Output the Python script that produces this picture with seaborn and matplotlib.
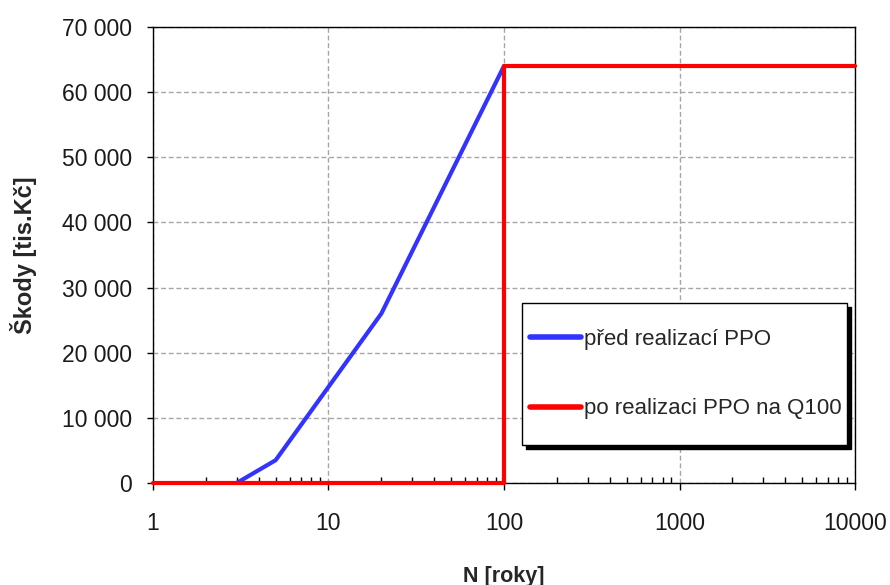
import matplotlib
matplotlib.use("Agg")
import matplotlib.pyplot as plt
import matplotlib.ticker as mticker
import matplotlib.transforms as mtransforms
from matplotlib.patches import Rectangle
import numpy as np
import pandas as pd
import seaborn as sns

# ---- data ----
n_before = [3, 5, 20, 100]
dmg_before = [0, 3500, 26000, 64000]
label_before = "před realizací PPO"

n_after = [1, 100, 100, 10000]
dmg_after = [0, 0, 64000, 64000]
label_after = "po realizaci PPO na Q100"

x_ticks = [1, 10, 100, 1000, 10000]
x_ticklabels = ["1", "10", "100", "1000", "10000"]
y_ticks = [0, 10000, 20000, 30000, 40000, 50000, 60000, 70000]

x_label = "N [roky]"
y_label = "Škody [tis.Kč]"

sns.set_style("white")
plt.rcParams["font.family"] = ["Liberation Sans", "DejaVu Sans"]

fig = plt.figure(figsize=(8.9, 5.85), dpi=100)
ax = fig.add_axes([0.1719, 0.1744, 0.7888, 0.7796])

df_b = pd.DataFrame({"N": n_before, "D": dmg_before})
df_a = pd.DataFrame({"N": n_after, "D": dmg_after})

sns.lineplot(data=df_b, x="N", y="D", ax=ax, color="#3333ff", linewidth=3,
             estimator=None, sort=False, label=label_before, clip_on=False, zorder=3)
sns.lineplot(data=df_a, x="N", y="D", ax=ax, color="#ff0000", linewidth=3,
             estimator=None, sort=False, label=label_after, clip_on=False, zorder=3)

ax.set_xscale("log")
ax.set_xlim(1, 10000)
ax.set_ylim(0, 70000)
ax.set_xticks(x_ticks)
ax.set_xticklabels(x_ticklabels)
ax.xaxis.set_minor_locator(mticker.LogLocator(base=10, subs=np.arange(2, 10)))
ax.xaxis.set_minor_formatter(mticker.NullFormatter())
ax.set_yticks(y_ticks)
ax.yaxis.set_major_formatter(mticker.FuncFormatter(lambda v, p: f"{int(v):,}".replace(",", " ")))

ax.tick_params(axis="x", which="major", direction="out", length=5, width=1,
               color="black", labelsize=16.5, pad=16, bottom=True, labelcolor="#1a1a1a")
ax.tick_params(axis="x", which="minor", direction="in", length=4, width=1,
               color="black", bottom=True)
ax.tick_params(axis="y", which="major", direction="out", length=4, width=1,
               color="black", labelsize=16.5, pad=11, left=True, labelcolor="#1a1a1a")

for s in ax.spines.values():
    s.set_visible(True)
    s.set_color("black")
    s.set_linewidth(1)

ax.grid(True, which="major", color="#a6a6a6", linestyle=(0, (3.5, 2)), linewidth=1)
ax.grid(False, which="minor")

ax.set_xlabel(x_label, fontsize=15.5, fontweight="bold", labelpad=22)
ax.set_ylabel(y_label, fontsize=17, fontweight="bold", labelpad=18)

# legend box with shadow
bx, by, bw, bh = 0.5256, 0.0833, 0.463, 0.3114
shadow_tr = mtransforms.offset_copy(ax.transAxes, fig=fig, x=4, y=-4, units="dots")
ax.add_patch(Rectangle((bx, by), bw, bh, transform=shadow_tr, facecolor="black",
                       edgecolor="black", linewidth=1, zorder=5.9, clip_on=False))
ax.add_patch(Rectangle((bx, by), bw, bh, transform=ax.transAxes, facecolor="white",
                       edgecolor="black", linewidth=1, zorder=6, clip_on=False))

leg = ax.legend(loc="center left", bbox_to_anchor=(bx, by + bh / 2),
                frameon=False, borderaxespad=0, borderpad=0.35, fontsize=16,
                labelspacing=2.2, handlelength=2.3, handletextpad=0.15)
leg.set_zorder(7)
for line in leg.get_lines():
    line.set_linewidth(4)

fig.savefig("out.png", dpi=100)
